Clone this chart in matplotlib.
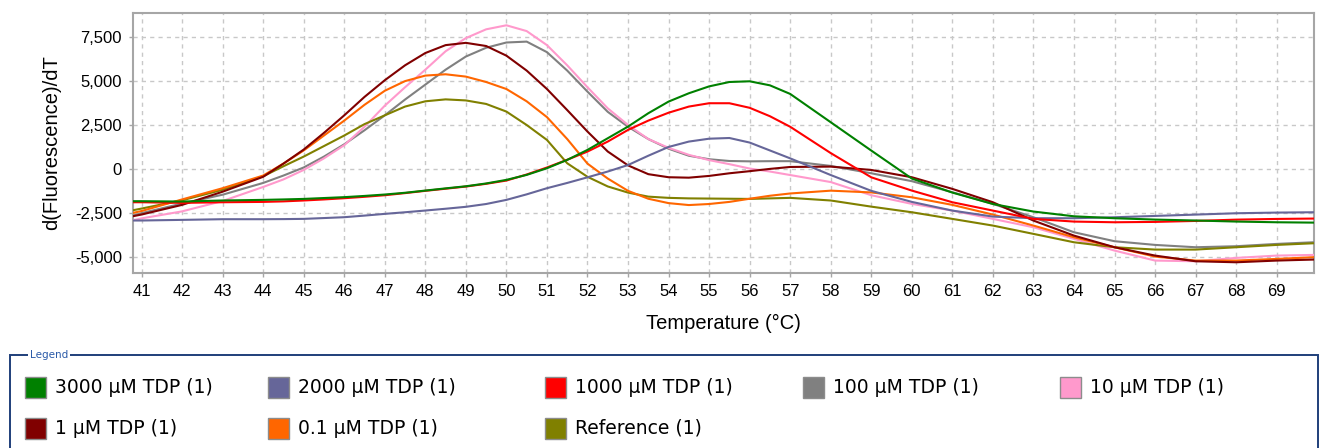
import matplotlib
matplotlib.use("Agg")
import matplotlib.pyplot as plt
from matplotlib.patches import Rectangle
from matplotlib.ticker import FuncFormatter, MultipleLocator

# ---------------- data ----------------
temperature = [40.8, 41, 42, 43, 44, 44.5, 45, 45.5, 46, 46.5, 47, 47.5, 48, 48.5,
               49, 49.5, 50, 50.5, 51, 51.5, 52, 52.5, 53, 53.5, 54, 54.5, 55, 55.5,
               56, 56.5, 57, 58, 59, 60, 61, 62, 63, 64, 65, 66, 67, 68, 69, 69.9]

tdp_3000 = [-1840, -1840, -1860, -1800, -1765, -1740, -1710, -1660, -1610, -1540, -1460, -1360, -1235, -1110,
            -990, -830, -626, -342, 38, 512, 1082, 1746, 2410, 3170, 3834, 4308, 4700, 4950,
            4990, 4760, 4270, 2657, 1044, -550, -1350, -2000, -2430, -2700, -2810, -2887, -2940, -3000, -3040, -3060]

tdp_2000 = [-2940, -2940, -2904, -2866, -2866, -2860, -2847, -2800, -2752, -2660, -2562, -2470, -2372, -2270,
            -2160, -2000, -1765, -1450, -1100, -800, -480, -150, 220, 750, 1250, 1556, 1720, 1760,
            1500, 1050, 600, -350, -1250, -1880, -2375, -2717, -2810, -2810, -2755, -2679, -2603, -2527, -2489, -2470]

tdp_1000 = [-1900, -1900, -1936, -1900, -1880, -1850, -1800, -1740, -1670, -1590, -1500, -1380, -1250, -1130,
            -1006, -850, -664, -320, 80, 520, 987, 1556, 2221, 2750, 3200, 3550, 3740, 3740,
            3480, 3000, 2400, 900, -480, -1236, -1900, -2375, -2848, -3001, -3040, -3020, -2964, -2890, -2850, -2830]

tdp_100 = [-2657, -2520, -1975, -1470, -800, -380, 80, 700, 1400, 2200, 3050, 3950, 4800, 5650,
           6400, 6900, 7200, 7250, 6650, 5600, 4400, 3250, 2400, 1700, 1150, 750, 550, 450,
           430, 440, 440, 170, -250, -700, -1330, -1993, -2755, -3610, -4120, -4330, -4463, -4405, -4273, -4180]

tdp_10 = [-2920, -2820, -2420, -1830, -1030, -600, -60, 600, 1350, 2400, 3600, 4650, 5650, 6700,
          7450, 7950, 8180, 7850, 7050, 5900, 4650, 3450, 2500, 1700, 1200, 800, 500, 270,
          20, -150, -350, -750, -1500, -1993, -2375, -2848, -3326, -3987, -4653, -5222, -5262, -5070, -4938, -4900]

tdp_1 = [-2690, -2600, -2050, -1300, -450, 300, 1100, 2050, 3050, 4100, 5050, 5900, 6600, 7050,
         7180, 7000, 6450, 5600, 4550, 3350, 2126, 990, 200, -300, -475, -500, -400, -250,
         -130, 0, 110, 130, -60, -475, -1139, -1900, -2944, -3800, -4463, -4938, -5262, -5319, -5222, -5165]

tdp_01 = [-2500, -2400, -1740, -1100, -380, 300, 1050, 1900, 2750, 3650, 4450, 5000, 5314, 5390,
          5257, 4950, 4550, 3850, 2950, 1700, 300, -550, -1250, -1700, -1950, -2060, -2000, -1880,
          -1700, -1530, -1400, -1240, -1340, -1617, -2050, -2603, -3229, -3895, -4463, -4995, -5222, -5222, -5127, -5032]

reference = [-2350, -2260, -1790, -1190, -420, 150, 700, 1300, 1900, 2550, 3050, 3550, 3850, 3960,
             3900, 3700, 3265, 2500, 1650, 320, -450, -1000, -1350, -1580, -1650, -1680, -1690, -1700,
             -1710, -1680, -1650, -1800, -2150, -2470, -2848, -3229, -3702, -4180, -4463, -4596, -4596, -4463, -4330, -4237]

series_labels = ["3000 \u00b5M TDP (1)", "2000 \u00b5M TDP (1)", "1000 \u00b5M TDP (1)",
                 "100 \u00b5M TDP (1)", "10 \u00b5M TDP (1)", "1 \u00b5M TDP (1)",
                 "0.1 \u00b5M TDP (1)", "Reference (1)"]
series_values = [tdp_3000, tdp_2000, tdp_1000, tdp_100, tdp_10, tdp_1, tdp_01, reference]
series_colors = ["#008000", "#666699", "#ff0000", "#808080", "#ff99cc", "#800000", "#ff6600", "#808000"]

x_ticks = list(range(41, 70))
y_ticks = [-5000, -2500, 0, 2500, 5000, 7500]

# ---------------- figure ----------------
W, H = 1323, 448
fig = plt.figure(figsize=(W / 100, H / 100), dpi=100)
fig.patch.set_facecolor("white")

ax_l, ax_r, ax_t, ax_b = 133, 1314, 13, 273
ax = fig.add_axes([ax_l / W, 1 - ax_b / H, (ax_r - ax_l) / W, (ax_b - ax_t) / H])

# draw order: pink/gray underneath
order = [3, 4, 7, 6, 5, 1, 2, 0]
for i in order:
    ax.plot(temperature, series_values[i], color=series_colors[i], lw=1.5,
            solid_joinstyle="round", zorder=3)

ax.set_xlim(40.79, 69.92)
ax.set_ylim(-5930, 8880)
ax.set_xticks(x_ticks)
ax.set_yticks(y_ticks)
ax.yaxis.set_major_formatter(FuncFormatter(lambda v, p: f"{int(v):,}"))

ax.grid(True, color="#c8c8c8", linestyle=(0, (3, 3)), linewidth=1.0, zorder=0)
for s in ax.spines.values():
    s.set_color("#a6a6a6")
    s.set_linewidth(1.5)

tick_font = dict(family=["Liberation Sans", "DejaVu Sans"], size=12)
ax.tick_params(axis="both", colors="#a6a6a6", length=3, width=1)
ax.tick_params(axis="x", pad=5, labelcolor="black")
ax.tick_params(axis="y", pad=5, labelcolor="black")
for lab in ax.get_xticklabels() + ax.get_yticklabels():
    lab.set_fontfamily(["Liberation Sans", "DejaVu Sans"])
    lab.set_fontsize(12)

ax.set_xlabel("Temperature (\u00b0C)", fontsize=14.5, family=["Liberation Sans", "DejaVu Sans"])
ax.set_ylabel("d(Fluorescence)/dT", fontsize=14.5, family=["Liberation Sans", "DejaVu Sans"])
ax.xaxis.label.set_va("center")
ax.yaxis.label.set_va("center")
ax.xaxis.set_label_coords(0.5, -(323 - ax_b) / (ax_b - ax_t))
ax.yaxis.set_label_coords(-(ax_l - 52) / (ax_r - ax_l), 0.5)

# ---------------- legend panel ----------------
def fx(px):
    return px / W

def fy(py):
    return 1 - py / H

frame_col = "#1f3f7a"
fig.add_artist(Rectangle((fx(10), fy(470)), fx(1318) - fx(10), fy(355) - fy(470),
                         transform=fig.transFigure, fill=False, edgecolor=frame_col,
                         linewidth=1.4, clip_on=False))
fig.text(fx(30), fy(355), "Legend", fontsize=7.5, color="#2a5aa8", ha="left", va="center",
         family=["DejaVu Sans"],
         bbox=dict(facecolor="white", edgecolor="none", pad=1.5))

col_x = [25, 268, 545, 803, 1060]
row_y = [387, 428]
box = 21
for k, (lab, col) in enumerate(zip(series_labels, series_colors)):
    r, c = divmod(k, 5)
    x0, yc = col_x[c], row_y[r]
    fig.add_artist(Rectangle((fx(x0), fy(yc + box / 2)), box / W, box / H,
                             transform=fig.transFigure, facecolor=col,
                             edgecolor="#8c8c8c", linewidth=1.0))
    fig.text(fx(x0 + box + 9), fy(yc), lab, fontsize=13.5, ha="left", va="center",
             family=["DejaVu Sans"], color="black")

fig.savefig("out.png", dpi=100, facecolor="white")
